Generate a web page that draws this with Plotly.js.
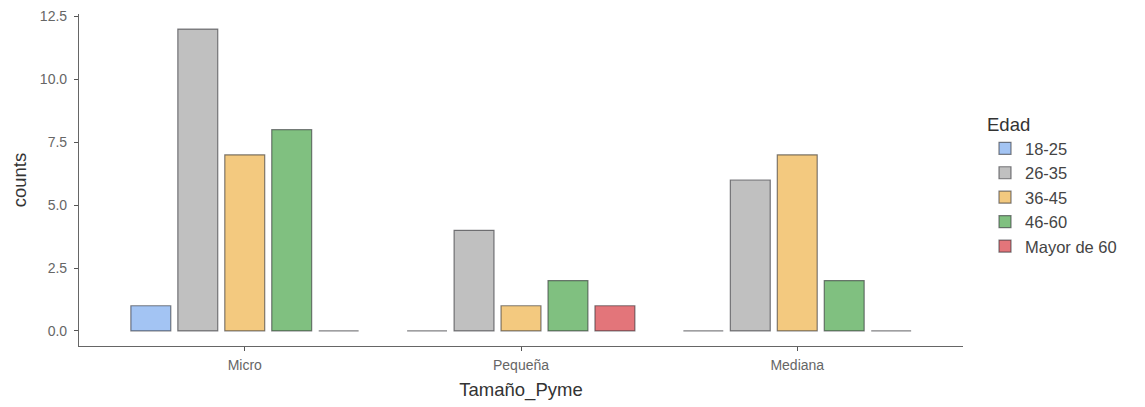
<!DOCTYPE html>
<html>
<head>
<meta charset="utf-8">
<script src="https://cdn.plot.ly/plotly-3.0.1.min.js"></script>
<style>html,body{margin:0;padding:0;background:#fff;}#chart{width:1145px;height:407px;}</style>
</head>
<body>
<div id="chart"></div>
<script>
const categories = ["Micro", "Pequeña", "Mediana"];
const ageGroups = ["18-25", "26-35", "36-45", "46-60", "Mayor de 60"];
const counts_18_25 = [1, 0, 0];
const counts_26_35 = [12, 4, 6];
const counts_36_45 = [7, 1, 7];
const counts_46_60 = [8, 2, 2];
const counts_mayor60 = [0, 1, 0];
const yTickVals = [0, 2.5, 5, 7.5, 10, 12.5];
const yTickText = ["0.0", "2.5", "5.0", "7.5", "10.0", "12.5"];
const fillColors = ["#a3c4f3", "#c0c0c0", "#f3c97f", "#80c080", "#e3757a"];

const seriesValues = [counts_18_25, counts_26_35, counts_36_45, counts_46_60, counts_mayor60];

const traces = ageGroups.map((name, i) => ({
  type: "bar",
  name: name,
  x: categories,
  y: seriesValues[i],
  marker: { color: fillColors[i], line: { color: "rgba(45,45,50,0.6)", width: 1.2 } },
  hoverinfo: "x+y+name"
}));

const font = "Liberation Sans, Arial, sans-serif";
const layout = {
  width: 1145, height: 407,
  margin: { l: 79, r: 182, t: 14, b: 61 },
  paper_bgcolor: "#fff", plot_bgcolor: "#fff",
  barmode: "group", bargap: 0.15, bargroupgap: 0.15,
  font: { family: font, color: "#333" },
  xaxis: {
    type: "category", range: [-0.6, 2.6],
    showline: true, linecolor: "#666", linewidth: 1.2,
    ticks: "outside", ticklen: 4, tickcolor: "#555", tickwidth: 1,
    ticklabelstandoff: 2,
    tickfont: { size: 14, color: "#666", family: font },
    showgrid: false, zeroline: false,
    title: { text: "Tamaño_Pyme", font: { size: 18.5, color: "#333", family: font }, standoff: 11 }
  },
  yaxis: {
    range: [-0.6, 12.6], tickvals: yTickVals, ticktext: yTickText,
    showline: true, linecolor: "#666", linewidth: 1.2,
    ticks: "outside", ticklen: 4, tickcolor: "#555", tickwidth: 1,
    ticklabelstandoff: 4,
    tickfont: { size: 14, color: "#666", family: font },
    showgrid: false, zeroline: false,
    title: { text: "counts", font: { size: 18.5, color: "#333", family: font }, standoff: 8 }
  },
  legend: {
    title: { text: "Edad", font: { size: 18.5, color: "#333", family: font } },
    font: { size: 16.5, color: "#444", family: font },
    xref: "container", yref: "container", x: 985 / 1145, y: 1 - 107 / 407, xanchor: "left", yanchor: "top",
    tracegroupgap: 0, itemwidth: 30, bgcolor: "rgba(0,0,0,0)", borderwidth: 0
  },
  showlegend: true
};

Plotly.newPlot("chart", traces, layout, { displayModeBar: false });
</script>
</body>
</html>
